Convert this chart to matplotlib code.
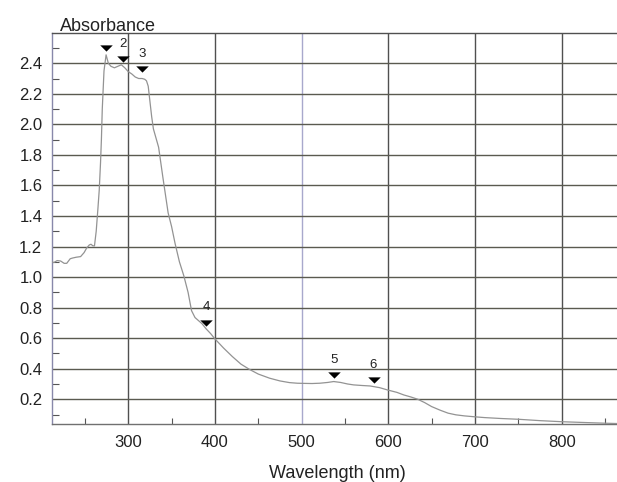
import matplotlib
matplotlib.use("Agg")
import matplotlib.pyplot as plt
from matplotlib.ticker import MultipleLocator
from matplotlib.path import Path

plt.rcParams['font.family'] = ['Liberation Sans', 'DejaVu Sans']

# Spectrum (wavelength nm, absorbance)
wavelength = [212, 214, 218, 222, 226, 229, 233, 236, 240, 245, 249, 252, 255, 257, 259, 261,
              263, 265, 266.5, 268, 269, 270, 272, 274.4, 277, 280, 284, 288, 292, 296, 300,
              304, 308, 312, 316, 319, 321, 323, 325, 327, 329, 332, 335, 340, 346, 350, 354,
              359, 364, 369, 373, 377, 381, 385, 390, 395, 400, 405, 410, 420, 430, 440, 450,
              463, 475, 486, 495, 502, 512, 521, 530, 537, 545, 553, 560, 570, 579, 590, 599,
              610, 618, 626, 634, 642, 650, 660, 669, 678, 688, 700, 711, 730, 750, 775, 800,
              825, 851, 871]
absorbance = [1.10, 1.095, 1.108, 1.105, 1.09, 1.09, 1.12, 1.125, 1.13, 1.134, 1.16, 1.19, 1.21, 1.215, 1.205, 1.204,
              1.30, 1.45, 1.57, 1.75, 1.90, 2.10, 2.35, 2.455, 2.40, 2.38, 2.37, 2.38, 2.39, 2.37, 2.345,
              2.33, 2.31, 2.30, 2.30, 2.295, 2.285, 2.25, 2.15, 2.05, 1.97, 1.91, 1.85, 1.65, 1.42, 1.33, 1.22,
              1.10, 1.01, 0.90, 0.78, 0.735, 0.715, 0.695, 0.66, 0.63, 0.595, 0.565, 0.535, 0.48, 0.43, 0.395, 0.365,
              0.338, 0.32, 0.309, 0.305, 0.304, 0.303, 0.305, 0.31, 0.316, 0.31, 0.30, 0.294, 0.29, 0.287, 0.276, 0.261,
              0.245, 0.228, 0.215, 0.2, 0.178, 0.152, 0.128, 0.109, 0.098, 0.091, 0.085, 0.080, 0.074, 0.069, 0.060, 0.053,
              0.048, 0.043, 0.040]

# Peak markers
peak_x = [274, 294, 316, 390, 537, 583]
peak_y = [2.45, 2.375, 2.31, 0.652, 0.307, 0.274]
peak_labels = ["", "2", "3", "4", "5", "6"]

x_ticks = [300, 400, 500, 600, 700, 800]
y_ticks = [0.2, 0.4, 0.6, 0.8, 1.0, 1.2, 1.4, 1.6, 1.8, 2.0, 2.2, 2.4]

W, H = 617, 482
fig = plt.figure(figsize=(W / 100, H / 100), dpi=100)
ax_w = 1 - 52 / W + 0.01
ax = fig.add_axes([52 / W, 1 - 424 / H, ax_w, (424 - 33.3) / H])

ax.set_xlim(212, 871)
ax.set_ylim(0.038, 2.596)

ax.set_xticks(x_ticks)
ax.set_yticks(y_ticks)
ax.set_yticklabels([f"{v:.1f}" for v in y_ticks])
ax.xaxis.set_minor_locator(MultipleLocator(50))
ax.yaxis.set_minor_locator(MultipleLocator(0.1))

for x in x_ticks:
    col = "#a8a8cc" if x == 500 else "#505050"
    ax.axvline(x, color=col, lw=1.0, zorder=1)
for y in y_ticks:
    ax.axhline(y, color="#5a5a50", lw=1.0, zorder=1)

ax.tick_params(axis="both", which="major", length=0, labelsize=12, colors="#222222")
ax.tick_params(axis="y", which="major", pad=7)
ax.tick_params(axis="x", which="major", pad=8)
ax.tick_params(axis="both", which="minor", direction="in", length=4, color="#555555", width=0.8)
ax.tick_params(axis="y", which="minor", length=5)

ax.spines["right"].set_visible(False)
ax.spines["top"].set_color("#505050")
ax.spines["left"].set_color("#8888aa")
ax.spines["bottom"].set_color("#707070")
for s in ax.spines.values():
    s.set_linewidth(1.0)

ax.plot(wavelength, absorbance, color="#939393", lw=0.9, zorder=3)

flat_tri = Path([(-1.0, 0.5), (1.0, 0.5), (0.0, -0.5), (-1.0, 0.5)],
                [Path.MOVETO, Path.LINETO, Path.LINETO, Path.CLOSEPOLY])
for px, py, lab in zip(peak_x, peak_y, peak_labels):
    ax.plot(px, py + 0.05, marker=flat_tri, color="black", markersize=9, zorder=4,
            markeredgewidth=0)
    if lab:
        ax.annotate(lab, (px, py + 0.05), xytext=(0, 7), textcoords="offset points",
                    ha="center", va="bottom", fontsize=9.5, color="#222222")

ax.set_xlabel("Wavelength (nm)", fontsize=13, color="#222222", va="baseline")
ax.xaxis.set_label_coords((337 - 52) / (ax_w * W), -(478 - 424) / (424 - 33.3))
fig.text(60 / W, 1 - 31 / H, "Absorbance", fontsize=13, color="#222222",
         ha="left", va="baseline")

fig.savefig("out.png", dpi=100)
